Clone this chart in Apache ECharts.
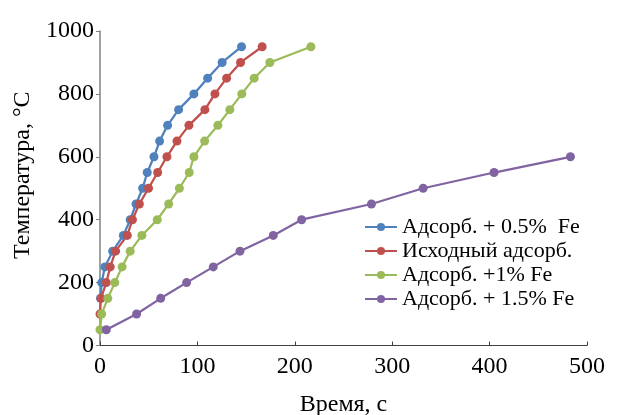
<!DOCTYPE html>
<html><head><meta charset="utf-8">
<script src="https://cdn.jsdelivr.net/npm/echarts@6/dist/echarts.min.js"></script>
<style>html,body{margin:0;padding:0;background:#fff}#c{width:622px;height:415px}</style>
</head><body><div id="c"></div>
<script>
const seriesNames = ['Адсорб. + 0.5%  Fe', 'Исходный адсорб.', 'Адсорб. +1% Fe', 'Адсорб. + 1.5% Fe'];
const tempBlue = [150,200,250,300,350,400,450,500,550,600,650,700,750,800,850,900,950];
const timeBlue = [0.5,1.7,5,13,24,31,37,43.8,48.5,55.4,61.2,69.4,80.7,96.4,110.5,125.4,145.3];
const tempRed = [100,150,200,250,300,350,400,450,500,550,600,650,700,750,800,850,900,950];
const timeRed = [0,1,6.5,10.5,16,28,33.3,40.4,49.8,59.2,68.7,79,91.3,107.7,118,130,144.3,166.5];
const tempGreen = [50,100,150,200,250,300,350,400,450,500,550,600,650,700,750,800,850,900,950];
const timeGreen = [0,1.7,8,15.2,22.7,31,43,58.8,70.5,81.5,91.6,96.4,107.4,121,133.3,145.6,158.3,174.4,216.5];
const tempPurple = [50,100,150,200,250,300,350,400,450,500,550,600];
const timePurple = [6.5,37.6,62.3,88.9,116.3,143.7,177.9,207,278.7,331.8,404.6,483];
const colors = ['#4F81BD','#C0504D','#9BBB59','#8064A2'];

const pairs = (t, T) => t.map((v, i) => [v, T[i]]);
const dataSets = [pairs(timeBlue,tempBlue), pairs(timeRed,tempRed), pairs(timeGreen,tempGreen), pairs(timePurple,tempPurple)];
const font = 'Liberation Serif';

const chart = echarts.init(document.getElementById('c'), null, {renderer:'canvas'});
chart.setOption({
  animation: false,
  backgroundColor: '#fff',
  color: colors,
  grid: {left: 100, right: 35, top: 31, bottom: 69.5, containLabel: false, outerBoundsMode: 'none'},
  legend: {
    orient: 'vertical', left: 359, top: 211,
    itemWidth: 32, itemHeight: 10, itemGap: 2,
    textStyle: {fontFamily: font, fontSize: 22, color: '#000'},
    data: seriesNames
  },
  xAxis: {
    type: 'value', min: 0, max: 500, interval: 100,
    name: 'Время, с', nameLocation: 'middle', nameGap: 47,
    nameTextStyle: {fontFamily: font, fontSize: 24, color: '#000'},
    axisLine: {show: true, lineStyle: {color: '#404040', width: 1}},
    axisTick: {show: true, inside: true, length: 4, lineStyle: {color: '#404040'}},
    axisLabel: {fontFamily: font, fontSize: 24, color: '#000', margin: 9},
    splitLine: {show: false}
  },
  yAxis: {
    type: 'value', min: 0, max: 1000, interval: 200,
    name: 'Температура, °C', nameLocation: 'middle', nameGap: 60,
    nameTextStyle: {fontFamily: font, fontSize: 24, color: '#000', padding: [0,0,0,26]},
    axisLine: {show: true, lineStyle: {color: '#808080', width: 1.5}},
    axisTick: {show: true, inside: false, length: 4, lineStyle: {color: '#808080'}},
    axisLabel: {fontFamily: font, fontSize: 24, color: '#000', margin: 6, formatter: v => String(v)},
    splitLine: {show: false}
  },
  series: dataSets.map((d, i) => ({
    name: seriesNames[i], type: 'line', data: d,
    symbol: 'circle', symbolSize: 9,
    lineStyle: {width: 2.25, color: colors[i]},
    itemStyle: {color: colors[i]},
    clip: false
  }))
});
</script></body></html>
